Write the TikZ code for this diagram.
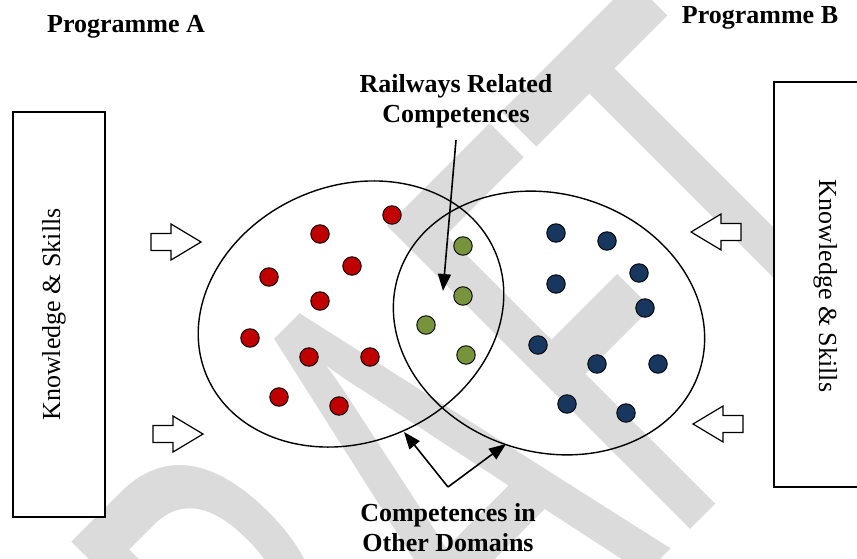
\documentclass[tikz,border=0pt]{standalone}
\usepackage{fontspec}
\setmainfont{Liberation Serif}
\newfontfamily\wmfont[Kerning=Off]{Carlito}
\usetikzlibrary{arrows.meta,shapes.geometric}
\definecolor{dotred}{RGB}{192,0,0}
\definecolor{dotgreen}{RGB}{119,147,60}
\definecolor{dotblue}{RGB}{23,55,94}
\definecolor{wmgray}{RGB}{219,219,219}
\tikzset{
  vdot/.style={circle, draw=black, line width=0.9pt, minimum size=18.5pt, inner sep=0pt},
  reddot/.style={vdot, fill=dotred},
  greendot/.style={vdot, fill=dotgreen},
  bluedot/.style={vdot, fill=dotblue},
  ksbox/.style={draw=black, line width=1.4pt, fill=white, inner sep=0pt},
  kstext/.style={font=\fontsize{26}{31}\selectfont, inner sep=0pt},
  lbl/.style={font=\fontsize{26}{30}\selectfont\bfseries, align=center, inner sep=0pt},
  venn/.style={ellipse, draw=black, line width=1.4pt, inner sep=0pt},
  blockarrow/.style={draw=black, line width=1.2pt, fill=white, line join=miter},
  pointer/.style={draw=black, line width=1.6pt, -{Triangle[length=17pt,width=13pt]}},
  blockarr/.pic={\path[blockarrow] (0,-8.5) -- (20,-8.5) -- (20,-18) -- (50,0) -- (20,18) -- (20,8.5) -- (0,8.5) -- cycle;}
}
\begin{document}
\begin{tikzpicture}[x=1pt,y=-1pt]
\useasboundingbox (0,0) rectangle (857,559);
% watermark
\begin{scope}
\clip (0,0) rectangle (857,559);
\node[cm={2.828,2.828,-4.724,4.724,(0,0)}, anchor=base west, inner sep=0pt, text=wmgray,
      font=\wmfont\fontsize{100}{100}\selectfont] (wm) at (180.1,1039.9) {DRAFT};
\end{scope}
% boxes
\node[ksbox, minimum width=92pt, minimum height=405pt] (boxA) at (59,314.5) {};
\node[ksbox, minimum width=100pt, minimum height=405pt] (boxB) at (824,284.5) {};
\node[kstext, rotate=90, anchor=base] (ksA) at (60,314.5) {Knowledge \& Skills};
\node[kstext, rotate=-90, anchor=base] (ksB) at (819,286) {Knowledge \& Skills};
% block arrows
\pic at (151,242) {blockarr};
\pic at (153,434) {blockarr};
\pic[rotate=180] at (741,232) {blockarr};
\pic[rotate=180] at (743,424) {blockarr};
% venn ellipses
\node[venn, minimum width=314pt, minimum height=256pt, rotate=23.5] (setA) at (351,314) {};
\node[venn, minimum width=316pt, minimum height=258pt, rotate=-17.4] (setB) at (549,323) {};
% dots
\foreach \px/\py [count=\i] in {392/215,320/234,352/266,269/277,320/301,250/338,309/357,370/357,279/397,339/406}
  \node[reddot] (r\i) at (\px,\py) {};
\foreach \px/\py [count=\i] in {463/246,463/296,426/325,466/355}
  \node[greendot] (g\i) at (\px,\py) {};
\foreach \px/\py [count=\i] in {556/233,607/241,556/284,639/273,645/308,538/345,597/364,658/364,567/404,626/413}
  \node[bluedot] (b\i) at (\px,\py) {};
% labels
\node[lbl, anchor=base] (progA) at (126,33) {Programme A};
\node[lbl, anchor=base] (progB) at (760,24) {Programme B};
\node[lbl, anchor=base] (rrc) at (456,123) {Railways Related\\Competences};
\node[lbl, anchor=base] (cod) at (448,551) {Competences in\\Other Domains};
% pointers
\coordinate (rrtail) at (456,140);
\coordinate (rrtip) at (443,291);
\coordinate (fork) at (448,487);
\coordinate (tipL) at (404,432);
\coordinate (tipR) at (506,444);
\draw[pointer] (rrtail) -- (rrtip);
\draw[pointer] (fork) -- (tipL);
\draw[pointer] (fork) -- (tipR);
\end{tikzpicture}
\end{document}
